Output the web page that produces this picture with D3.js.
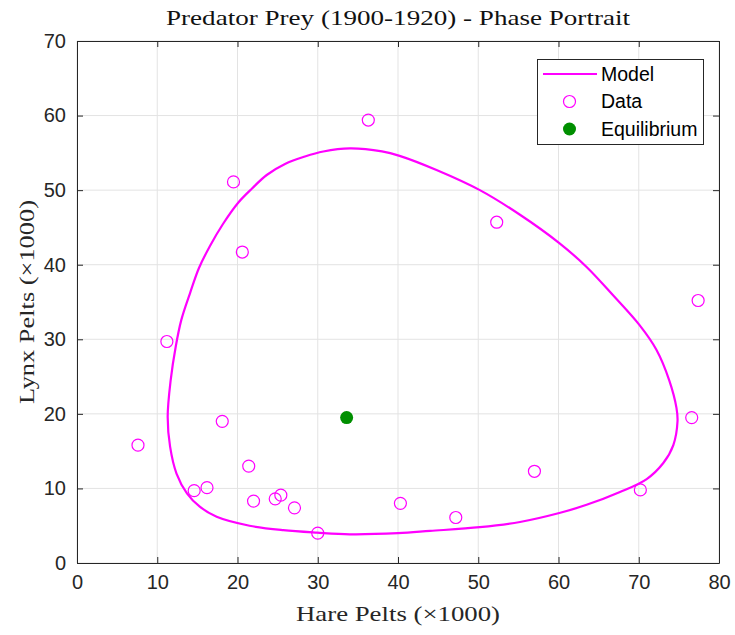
<!DOCTYPE html>
<html>
<head>
<meta charset="utf-8">
<script src="https://cdn.jsdelivr.net/npm/d3@7"></script>
<style>
  html, body { margin: 0; padding: 0; background: #fff; }
  svg { display: block; }
</style>
</head>
<body>
<script>
// Hudson Bay Company pelt records, 1900-1920 (thousands)
const years = [1900,1901,1902,1903,1904,1905,1906,1907,1908,1909,1910,1911,1912,1913,1914,1915,1916,1917,1918,1919,1920];
const hare  = [30, 47.2, 70.2, 77.4, 36.3, 20.6, 18.1, 21.4, 22, 25.4, 27.1, 40.3, 57, 76.6, 52.3, 19.5, 11.2, 7.6, 14.6, 16.2, 24.7];
const lynx  = [4, 6.1, 9.8, 35.2, 59.4, 41.7, 19, 13, 8.3, 9.1, 7.4, 8, 12.3, 19.5, 45.7, 51.1, 29.7, 15.8, 9.7, 10.1, 8.6];

// Fitted Lotka-Volterra orbit (hare, lynx), one closed cycle
const modelHare = [11.3, 11.67, 12.3, 13.0, 14.08, 15.2, 16.57, 18.19, 20.06, 21.81, 23.64, 25.92, 28.41, 30.69, 34.0, 38.0, 40.2, 44.8, 50.2, 55.2, 60.1, 63.5, 66.8, 70.1, 72.2, 73.8, 74.7, 74.83, 74.31, 73.06, 70.99, 67.66, 63.5, 60.1, 55.2, 50.2, 44.0, 40.0, 34.0, 29.9, 25.7, 21.5, 17.4, 15.3, 13.7, 12.4, 11.6];
const modelLynx = [19.6, 24.5, 29.0, 32.6, 36.17, 39.56, 42.51, 45.46, 48.28, 50.22, 52.03, 53.51, 54.51, 55.18, 55.6, 55.2, 54.6, 52.7, 50.0, 46.7, 42.9, 39.7, 35.9, 31.9, 28.6, 24.5, 20.8, 19.0, 15.82, 13.41, 11.26, 9.52, 7.8, 6.7, 5.5, 4.8, 4.3, 4.0, 3.85, 4.07, 4.4, 5.0, 6.2, 7.55, 9.35, 12.0, 15.6];

// Equilibrium point (hare, lynx)
const equilibrium = [33.6, 19.5];

const xTicks = [0, 10, 20, 30, 40, 50, 60, 70, 80];
const yTicks = [0, 10, 20, 30, 40, 50, 60, 70];
const legendLabels = ["Model", "Data", "Equilibrium"];

const W = 735, H = 635;
const margin = { left: 77, right: 16, top: 41, bottom: 72 };
const axisColor = "#262626";
const gridColor = "#e3e3e3";
const magenta = "#ff00ff";
const green = "#008f00";
const serif = "'Liberation Serif', 'DejaVu Serif', serif";
const sans = "'Liberation Sans', Arial, sans-serif";

const svg = d3.select("body").append("svg").attr("width", W).attr("height", H);

const x = d3.scaleLinear().domain([0, 80]).range([margin.left, W - margin.right]);
const y = d3.scaleLinear().domain([0, 70]).range([H - margin.bottom, margin.top]);

const x0 = x.range()[0], x1 = x.range()[1];
const y0 = y.range()[0], y1 = y.range()[1];

// Grid
const grid = svg.append("g");
grid.selectAll("line.gx").data(xTicks).join("line")
  .attr("x1", d => x(d)).attr("x2", d => x(d))
  .attr("y1", y0).attr("y2", y1)
  .attr("stroke", gridColor).attr("stroke-width", 1);
grid.selectAll("line.gy").data(yTicks).join("line")
  .attr("x1", x0).attr("x2", x1)
  .attr("y1", d => y(d)).attr("y2", d => y(d))
  .attr("stroke", gridColor).attr("stroke-width", 1);

// Axes with inward ticks on all four sides
function styleAxis(g) {
  g.selectAll("path.domain").attr("stroke", axisColor).attr("stroke-width", 1);
  g.selectAll(".tick line").attr("stroke", axisColor);
  g.selectAll(".tick text").attr("fill", axisColor)
    .style("font-family", sans).style("font-size", "20px");
}
svg.append("g").attr("transform", `translate(0,${y0})`)
  .call(d3.axisBottom(x).tickValues(xTicks).tickSizeInner(-6).tickSizeOuter(0).tickPadding(12))
  .call(styleAxis);
svg.append("g").attr("transform", `translate(0,${y1})`)
  .call(d3.axisTop(x).tickValues(xTicks).tickSizeInner(-6).tickSizeOuter(0).tickFormat(""))
  .call(styleAxis);
svg.append("g").attr("transform", `translate(${x0},0)`)
  .call(d3.axisLeft(y).tickValues(yTicks).tickSizeInner(-6).tickSizeOuter(0).tickPadding(11))
  .call(styleAxis);
svg.append("g").attr("transform", `translate(${x1},0)`)
  .call(d3.axisRight(y).tickValues(yTicks).tickSizeInner(-6).tickSizeOuter(0).tickFormat(""))
  .call(styleAxis);

// Model orbit
const orbit = modelHare.map((h, i) => [h, modelLynx[i]]);
svg.append("path")
  .datum(orbit)
  .attr("d", d3.line().x(d => x(d[0])).y(d => y(d[1])).curve(d3.curveCatmullRomClosed.alpha(0.5)))
  .attr("fill", "none")
  .attr("stroke", magenta)
  .attr("stroke-width", 2.2);

// Observed data
const obs = years.map((yr, i) => ({ year: yr, h: hare[i], l: lynx[i] }));
svg.append("g").selectAll("circle").data(obs).join("circle")
  .attr("cx", d => x(d.h)).attr("cy", d => y(d.l))
  .attr("r", 6)
  .attr("fill", "none")
  .attr("stroke", magenta)
  .attr("stroke-width", 1.2);

// Equilibrium
svg.append("circle")
  .attr("cx", x(equilibrium[0])).attr("cy", y(equilibrium[1]))
  .attr("r", 6.5)
  .attr("fill", green);

// Title and axis labels (roman face, stretched to the label widths)
svg.append("text")
  .attr("x", (x0 + x1) / 2).attr("y", 25)
  .attr("text-anchor", "middle")
  .attr("textLength", 464).attr("lengthAdjust", "spacingAndGlyphs")
  .style("font-family", serif).style("font-size", "22px").attr("fill", "#111")
  .text("Predator Prey (1900-1920) - Phase Portrait");

svg.append("text")
  .attr("x", (x0 + x1) / 2).attr("y", 621)
  .attr("text-anchor", "middle")
  .attr("textLength", 204).attr("lengthAdjust", "spacingAndGlyphs")
  .style("font-family", serif).style("font-size", "22px").attr("fill", axisColor)
  .text("Hare Pelts (×1000)");

svg.append("text")
  .attr("transform", `translate(34,${(y0 + y1) / 2}) rotate(-90)`)
  .attr("text-anchor", "middle")
  .attr("textLength", 204).attr("lengthAdjust", "spacingAndGlyphs")
  .style("font-family", serif).style("font-size", "22px").attr("fill", axisColor)
  .text("Lynx Pelts (×1000)");

// Legend
const lg = svg.append("g");
lg.append("rect")
  .attr("x", 537.5).attr("y", 59.5).attr("width", 166).attr("height", 85)
  .attr("fill", "#fff").attr("stroke", axisColor).attr("stroke-width", 1);
const rowY = [74, 101.5, 129];
lg.append("line")
  .attr("x1", 543).attr("x2", 597).attr("y1", rowY[0]).attr("y2", rowY[0])
  .attr("stroke", magenta).attr("stroke-width", 2.2);
lg.append("circle").attr("cx", 569.5).attr("cy", rowY[1]).attr("r", 6)
  .attr("fill", "none").attr("stroke", magenta).attr("stroke-width", 1.2);
lg.append("circle").attr("cx", 569.5).attr("cy", rowY[2]).attr("r", 6.5)
  .attr("fill", green);
lg.selectAll("text").data(legendLabels).join("text")
  .attr("x", 601).attr("y", (d, i) => rowY[i])
  .attr("dy", "0.35em")
  .style("font-family", sans).style("font-size", "19.5px").attr("fill", "#000")
  .text(d => d);
</script>
</body>
</html>
